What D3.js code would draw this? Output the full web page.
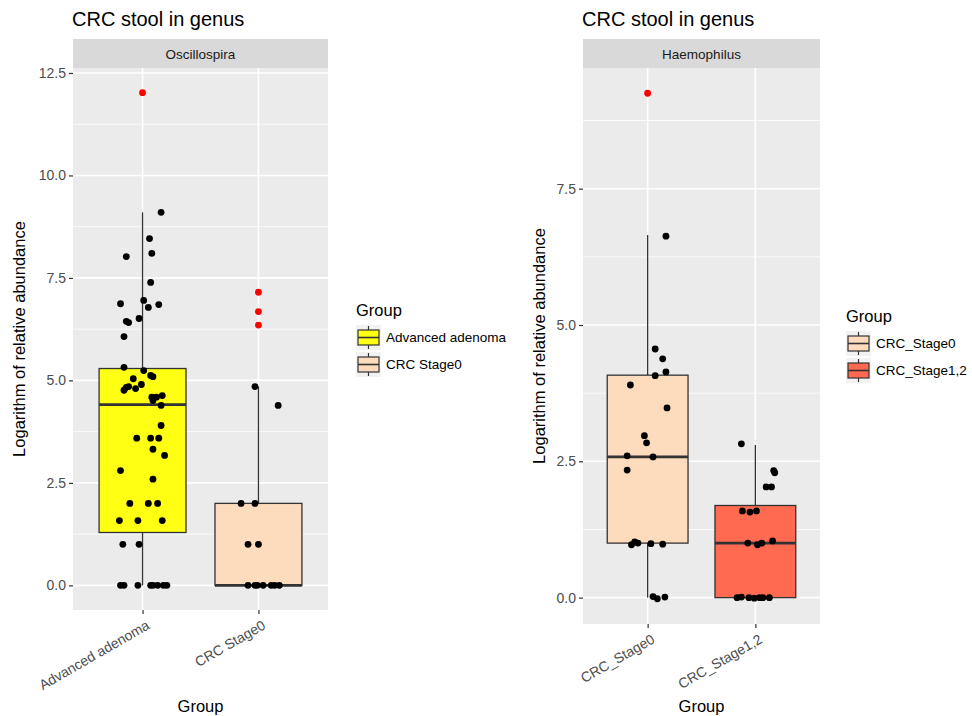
<html>
<head>
<script src="https://d3js.org/d3.v7.min.js" charset="utf-8"></script>
<style>
  body { margin: 0; background: #fff; }
  text { font-family: "Liberation Sans", Arial, sans-serif; }
</style>
</head>
<body>
<script>
// ---- data ----
var leftTitle = "CRC stool in genus"
var leftStrip = "Oscillospira"
var leftCategories = ["Advanced adenoma", "CRC Stage0"]
var leftColors = ["#FFFF14", "#FDDBBD"]
// box stats: [lower whisker, q1, median, q3, upper whisker]
var leftBoxes = [[0, 1.29, 4.41, 5.29, 9.1], [0, 0, 0, 2.0, 4.85]]
var leftOutliers = [[12.02], [7.15, 6.68, 6.35]]
// points: [value, jitter in category units]
var advancedPoints = [
  [9.1, 0.16], [8.46, 0.06], [8.1, 0.08], [8.02, -0.14], [7.39, 0.07],
  [6.87, -0.19], [6.95, 0.01], [6.78, 0.05], [6.85, 0.14], [6.44, -0.14],
  [6.41, -0.12], [6.51, -0.03], [6.07, -0.16], [5.32, -0.16], [5.24, 0.01],
  [5.12, 0.07], [5.09, 0.09], [5.04, -0.08], [4.9, -0.01], [4.85, -0.12],
  [4.83, -0.14], [4.76, -0.16], [4.8, -0.06], [4.59, 0.08], [4.59, 0.12],
  [4.63, 0.17], [4.51, 0.09], [4.39, 0.16], [3.9, 0.16], [3.59, -0.05],
  [3.59, 0.07], [3.59, 0.14], [3.32, 0.09], [3.17, 0.19], [2.8, -0.19],
  [2.59, 0.09], [2.0, -0.11], [2.0, 0.05], [2.0, 0.13], [1.58, -0.2],
  [1.58, -0.04], [1.58, 0.17], [1.0, -0.17], [1.0, -0.03],
  [0, -0.19], [0, -0.16], [0, -0.04], [0, 0.07], [0, 0.09], [0, 0.13], [0, 0.18], [0, 0.21]
]
var stage0LeftPoints = [
  [4.85, -0.03], [4.39, 0.17], [2.0, -0.15], [2.0, -0.03], [1.0, -0.09], [1.0, 0],
  [0, -0.09], [0, -0.03], [0, -0.01], [0, 0.04], [0, 0.11], [0, 0.14], [0, 0.18]
]
var leftYTicks = [0, 2.5, 5, 7.5, 10, 12.5]

var rightTitle = "CRC stool in genus"
var rightStrip = "Haemophilus"
var rightCategories = ["CRC_Stage0", "CRC_Stage1,2"]
var rightColors = ["#FDDBBD", "#FF6A50"]
var rightBoxes = [[0, 1.0, 2.58, 4.08, 6.65], [0, 0, 1.0, 1.69, 2.8]]
var rightOutliers = [[9.25], []]
var stage0RightPoints = [
  [6.63, 0.17], [4.56, 0.07], [4.38, 0.14], [4.14, 0.17], [4.07, 0.07],
  [3.9, -0.16], [3.48, 0.18], [2.97, -0.03], [2.84, -0.01], [2.6, -0.19],
  [2.58, 0.05], [2.34, -0.19], [0.97, -0.15], [1.02, -0.12], [1.0, -0.09],
  [0.99, 0.03], [0.98, 0.14], [0.02, 0.05], [-0.02, 0.09], [0.01, 0.16]
]
var stage12Points = [
  [2.82, -0.13], [2.33, 0.17], [2.29, 0.18], [2.03, 0.1], [2.03, 0.15],
  [1.59, -0.12], [1.57, -0.05], [1.59, 0.01], [1.0, -0.07], [0.97, 0.02],
  [1.04, 0.16], [1.0, 0.06],
  [0, -0.17], [0.01, -0.13], [0, -0.06], [-0.01, -0.01], [0, 0.04], [0, 0.07], [0, 0.13]
]
var rightYTicks = [0, 2.5, 5, 7.5]

var width = 972
var height = 716

var svg = d3.select("body").append("svg")
  .attr("width", width)
  .attr("height", height)

function drawPanel(cfg) {
  var g = svg.append("g")
  var left = cfg.left, right = cfg.right, top = cfg.top, bottom = cfg.bottom

  // y domain with ggplot-like 5% expansion
  var all = []
  cfg.points.forEach(function(ps) { ps.forEach(function(p) { all.push(p[0]) }) })
  cfg.outliers.forEach(function(os) { os.forEach(function(o) { all.push(o) }) })
  var ext = d3.extent(all)
  var pad = (ext[1] - ext[0]) * 0.05
  var y = d3.scaleLinear().domain([ext[0] - pad, ext[1] + pad]).range([bottom, top])

  // discrete x: positions 1..n, expanded by 0.6
  var n = cfg.categories.length
  var x = d3.scaleLinear().domain([0.4, n + 0.6]).range([left, right])

  // title
  g.append("text").attr("x", left - 1).attr("y", 26)
    .attr("font-size", "20px").attr("fill", "#000").text(cfg.title)

  // strip
  g.append("rect").attr("x", left).attr("y", 39).attr("width", right - left).attr("height", top - 39)
    .attr("fill", "#D9D9D9")
  g.append("text").attr("x", (left + right) / 2).attr("y", 58.5)
    .attr("text-anchor", "middle").attr("font-size", "13.5px").attr("fill", "#1A1A1A").text(cfg.strip)

  // panel background
  g.append("rect").attr("x", left).attr("y", top).attr("width", right - left).attr("height", bottom - top)
    .attr("fill", "#EBEBEB")

  // minor grid
  var ticks = cfg.yTicks
  var minor = []
  for (var i = 0; i < ticks.length - 1; i++) minor.push((ticks[i] + ticks[i + 1]) / 2)
  minor.push(ticks[ticks.length - 1] + (ticks[1] - ticks[0]) / 2)
  minor = minor.filter(function(m) { return y(m) >= top && y(m) <= bottom })
  g.selectAll(".minor").data(minor).enter().append("line")
    .attr("x1", left).attr("x2", right)
    .attr("y1", function(d) { return y(d) }).attr("y2", function(d) { return y(d) })
    .attr("stroke", "#fff").attr("stroke-width", 0.8)

  // major grid
  g.selectAll(".major").data(ticks).enter().append("line")
    .attr("x1", left).attr("x2", right)
    .attr("y1", function(d) { return y(d) }).attr("y2", function(d) { return y(d) })
    .attr("stroke", "#fff").attr("stroke-width", 1.6)
  g.selectAll(".vmajor").data(cfg.categories).enter().append("line")
    .attr("x1", function(d, i) { return x(i + 1) }).attr("x2", function(d, i) { return x(i + 1) })
    .attr("y1", top).attr("y2", bottom)
    .attr("stroke", "#fff").attr("stroke-width", 1.6)

  // y axis
  var yAxis = g.append("g").attr("transform", "translate(" + left + ",0)")
    .call(d3.axisLeft(y).tickValues(ticks).tickSize(4).tickPadding(3)
      .tickFormat(function(d) { return d3.format(".1f")(d) }))
  yAxis.select(".domain").remove()
  yAxis.selectAll("line").attr("stroke", "#333").attr("stroke-width", 1.2)
  yAxis.selectAll("text").attr("font-size", "14px").attr("fill", "#4D4D4D")
    .attr("font-family", "Liberation Sans, Arial, sans-serif")

  // x axis
  var xAxis = g.append("g").attr("transform", "translate(0," + bottom + ")")
    .call(d3.axisBottom(x).tickValues(d3.range(1, n + 1)).tickSize(4)
      .tickFormat(function(d) { return cfg.categories[d - 1] }))
  xAxis.select(".domain").remove()
  xAxis.selectAll("line").attr("stroke", "#333").attr("stroke-width", 1.2)
  xAxis.selectAll("text").attr("font-size", "14px").attr("fill", "#4D4D4D")
    .attr("font-family", "Liberation Sans, Arial, sans-serif")
    .attr("text-anchor", "end").attr("dy", "0")
    .attr("transform", "translate(4,12) rotate(-30)")

  // axis titles
  g.append("text").attr("x", (left + right) / 2).attr("y", 712)
    .attr("text-anchor", "middle").attr("font-size", "16.5px").attr("fill", "#000").text("Group")
  g.append("text")
    .attr("transform", "translate(" + (cfg.yTitleX) + "," + ((top + bottom) / 2) + ") rotate(-90)")
    .attr("text-anchor", "middle").attr("font-size", "16.5px").attr("fill", "#000")
    .text("Logarithm of relative abundance")

  // boxes
  var bw = 0.75
  cfg.boxes.forEach(function(b, i) {
    var cx = x(i + 1)
    var x0 = x(i + 1 - bw / 2), x1 = x(i + 1 + bw / 2)
    g.append("line").attr("x1", cx).attr("x2", cx).attr("y1", y(b[3])).attr("y2", y(b[4]))
      .attr("stroke", "#333").attr("stroke-width", 1.3)
    g.append("line").attr("x1", cx).attr("x2", cx).attr("y1", y(b[0])).attr("y2", y(b[1]))
      .attr("stroke", "#333").attr("stroke-width", 1.3)
    g.append("rect").attr("x", x0).attr("y", y(b[3])).attr("width", x1 - x0)
      .attr("height", Math.max(0, y(b[1]) - y(b[3])))
      .attr("fill", cfg.colors[i]).attr("stroke", "#333").attr("stroke-width", 1.3)
    g.append("line").attr("x1", x0).attr("x2", x1).attr("y1", y(b[2])).attr("y2", y(b[2]))
      .attr("stroke", "#333").attr("stroke-width", 2.8)
    g.selectAll(".out" + i).data(cfg.outliers[i]).enter().append("circle")
      .attr("cx", cx).attr("cy", function(d) { return y(d) }).attr("r", 3.4)
      .attr("fill", "#FF0000")
  })

  // jittered points
  cfg.points.forEach(function(ps, i) {
    g.selectAll(".pt" + i).data(ps).enter().append("circle")
      .attr("cx", function(d) { return x(i + 1 + d[1]) })
      .attr("cy", function(d) { return y(d[0]) })
      .attr("r", 3.4).attr("fill", "#000")
  })

  // legend
  var lg = g.append("g").attr("transform", "translate(" + cfg.legendX + "," + cfg.legendY + ")")
  lg.append("text").attr("x", 0).attr("y", 0).attr("font-size", "16.5px").attr("fill", "#000").text("Group")
  cfg.categories.forEach(function(c, i) {
    var ky = 9 + i * 27
    var kg = lg.append("g").attr("transform", "translate(0," + ky + ")")
    kg.append("rect").attr("x", 0).attr("y", 0).attr("width", 25).attr("height", 25).attr("fill", "#F2F2F2")
    kg.append("line").attr("x1", 12.5).attr("x2", 12.5).attr("y1", 1).attr("y2", 24)
      .attr("stroke", "#333").attr("stroke-width", 1.2)
    kg.append("rect").attr("x", 2).attr("y", 5).attr("width", 21).attr("height", 15)
      .attr("fill", cfg.colors[i]).attr("stroke", "#333").attr("stroke-width", 1.2)
    kg.append("line").attr("x1", 2).attr("x2", 23).attr("y1", 12.5).attr("y2", 12.5)
      .attr("stroke", "#333").attr("stroke-width", 1.6)
    kg.append("text").attr("x", 30).attr("y", 17).attr("font-size", "13.5px").attr("fill", "#000").text(c)
  })
}

drawPanel({
  title: leftTitle, strip: leftStrip, categories: leftCategories, colors: leftColors,
  boxes: leftBoxes, outliers: leftOutliers, points: [advancedPoints, stage0LeftPoints],
  yTicks: leftYTicks, left: 73, right: 328, top: 68, bottom: 610,
  yTitleX: 25, legendX: 356, legendY: 316
})

drawPanel({
  title: rightTitle, strip: rightStrip, categories: rightCategories, colors: rightColors,
  boxes: rightBoxes, outliers: rightOutliers, points: [stage0RightPoints, stage12Points],
  yTicks: rightYTicks, left: 583, right: 820, top: 68, bottom: 624,
  yTitleX: 545, legendX: 846, legendY: 322
})
</script>
</body>
</html>
